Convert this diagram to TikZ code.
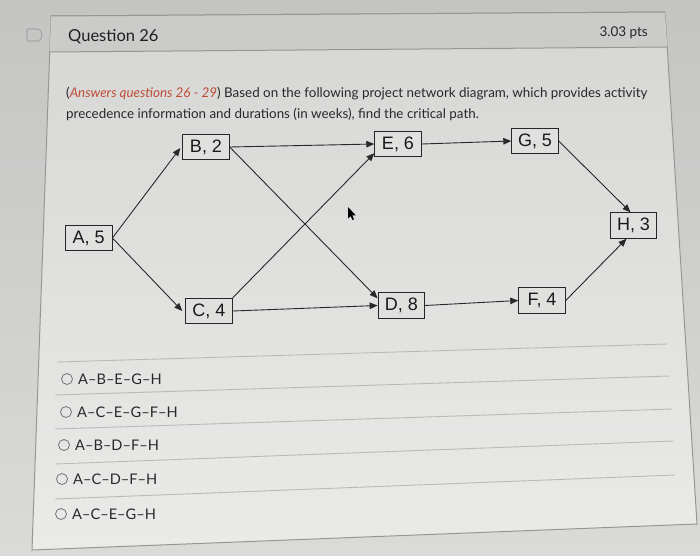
\documentclass[tikz,border=0pt]{standalone}
\usepackage{fontspec}
\setmainfont{Lato}
\newfontfamily\arialf{Liberation Sans}
\usetikzlibrary{arrows.meta,calc}
\definecolor{outertop}{RGB}{196,197,195}
\definecolor{outerbot}{RGB}{218,219,217}
\definecolor{paneltop}{RGB}{214,215,213}
\definecolor{panelbot}{RGB}{234,235,233}
\definecolor{headerc}{RGB}{203,204,202}
\definecolor{borderc}{RGB}{150,151,149}
\definecolor{sepc}{RGB}{185,186,184}
\definecolor{boxfill}{RGB}{224,225,223}
\definecolor{txtc}{RGB}{40,40,40}
\definecolor{ansred}{RGB}{190,76,56}
\definecolor{linec}{RGB}{40,40,40}
\tikzset{
  actbox/.style={draw=black!85, fill=boxfill, line width=0.9pt, inner sep=0pt,
    minimum width=46.5pt, minimum height=25.5pt, text=black!90,
    font=\arialf\fontsize{18}{18}\selectfont},
  arr/.style={draw=linec, line width=0.9pt, -{Triangle[length=8pt,width=6.5pt]}},
  para/.style={inner sep=0pt, text=txtc, font=\fontsize{13.4}{16}\selectfont},
  opt/.style={inner sep=0pt, text=txtc, font=\fontsize{14.6}{16}\selectfont},
  radio/.style={circle, draw=black!55, line width=0.8pt, minimum size=11pt, inner sep=0pt},
  sepline/.style={draw=sepc, line width=0.9pt}
}
\begin{document}
\begin{tikzpicture}[x=1pt,y=-1pt]
\useasboundingbox (0,0) rectangle (700,555);
\fill[top color=outertop, bottom color=outerbot] (0,0) rectangle (700,555);
% panel
\path[draw=borderc, line width=1pt, top color=paneltop, bottom color=panelbot]
  (51,16) -- (665,12) -- (697,524) -- (32,550) -- cycle;
\fill[headerc] (51,16) -- (665,12) -- (667.2,47) -- (49.7,52) -- cycle;
\draw[borderc, line width=1pt] (51,16) -- (665,12);
\draw[borderc, line width=1pt] (49.7,52) -- (667.2,47);
% icon
\draw[black!35, line width=1.1pt, rounded corners=1pt]
  (27,29) -- (37,29) .. controls (43,29) and (43,41) .. (37,41) -- (27,41) -- cycle;
% header texts
\node[anchor=base west, inner sep=0pt, text=black!88, font=\fontsize{16.5}{18}\selectfont] (title) at (68,41) {Question 26};
\node[anchor=base east, inner sep=0pt, text=black!85, font=\fontsize{13.5}{16}\selectfont] (pts) at (648,36) {3.03 pts};
% question text
\node[anchor=base west, para] (l1) at (66,97) {(\textcolor{ansred}{\itshape Answers questions 26 - 29}) Based on the following project network diagram, which provides activity};
\node[anchor=base west, para] (l2) at (66,118) {precedence information and durations (in weeks), find the critical path.};
% nodes
\node[actbox] (A) at (88.7,238) {A, 5};
\node[actbox] (B) at (206,147) {B, 2};
\node[actbox] (C) at (209,311) {C, 4};
\node[actbox] (E) at (398,144) {E, 6};
\node[actbox] (D) at (401.3,305.5) {D, 8};
\node[actbox] (G) at (535,141) {G, 5};
\node[actbox] (F) at (542,300.5) {F, 4};
\node[actbox] (H) at (633.5,225.5) {H, 3};
% connectors
\draw[arr] (A.east) -- ($(B.west)+(-2,1)$);
\draw[arr] (A.east) -- ($(C.west)+(-3,0)$);
\draw[arr] (B.east) -- (E.west);
\draw[arr] (B.east) -- ($(D.north west)+(0,6)$);
\draw[arr] (C.north east) -- ($(E.south west)+(0,-4)$);
\draw[arr] (C.east) -- (D.west);
\draw[arr] (E.east) -- (G.west);
\draw[arr] (D.east) -- (F.west);
\draw[arr] (G.east) -- ($(H.north)+(-3,0)$);
\draw[arr] (F.east) -- ($(H.south)+(-7,0)$);
% cursor
\fill[black] (348,207) -- (348,218.5) -- (350.6,216) -- (352.4,220) -- (354,219.3) -- (352.3,215.4) -- (355.8,215.4) -- cycle;
% separators
\draw[sepline] (57,362) -- (667,344);
\draw[sepline] (55,395) -- (670,376);
\draw[sepline] (55,429) -- (672,409);
\draw[sepline] (55,464) -- (673,441);
\draw[sepline] (55,499) -- (675,475);
% options
\node[radio] (r1) at (67,379) {};
\node[opt, anchor=west] (o1) at (78,379) {A–B–E–G–H};
\node[radio] (r2) at (66,412) {};
\node[opt, anchor=west] (o2) at (77,412) {A–C–E–G–F–H};
\node[radio] (r3) at (64,445) {};
\node[opt, anchor=west] (o3) at (75,445) {A–B–D–F–H};
\node[radio] (r4) at (62,479) {};
\node[opt, anchor=west] (o4) at (73,479) {A–C–D–F–H};
\node[radio] (r5) at (61,514) {};
\node[opt, anchor=west] (o5) at (72,514) {A–C–E–G–H};
\end{tikzpicture}
\end{document}
